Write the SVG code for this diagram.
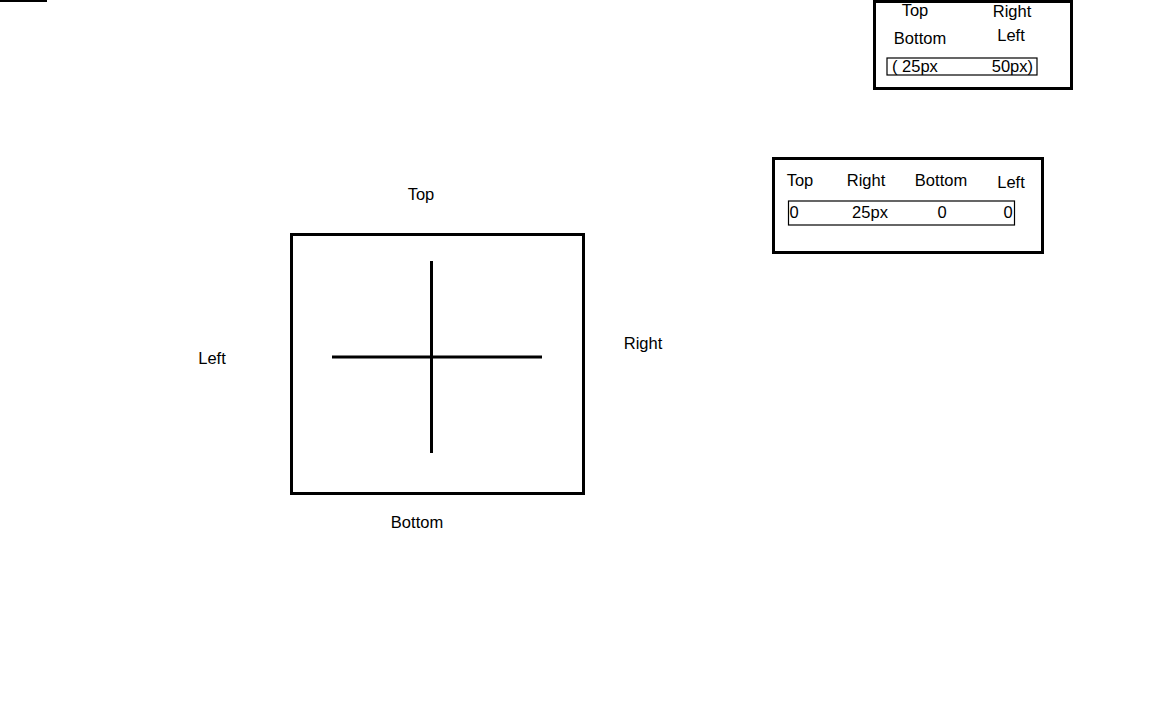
<svg xmlns="http://www.w3.org/2000/svg" width="1152" height="720" viewBox="0 0 1152 720">
<style>
text{font-family:"Liberation Sans","DejaVu Sans",sans-serif;font-size:16.5px;fill:#000;text-anchor:middle}
.box{fill:none;stroke:#000;stroke-width:3}
.inner{fill:none;stroke:#000;stroke-width:1.2}
.ln{stroke:#000;stroke-width:3;fill:none}
</style>
<rect width="1152" height="720" fill="#fff"/>
<g id="topline"><line x1="0" y1="1" x2="47" y2="1" stroke="#000" stroke-width="2"/></g>
<g id="shorthand-box">
<rect class="box" x="874.5" y="1.5" width="197" height="87"/>
<rect class="inner" x="887" y="58" width="150" height="17"/>
<text x="915" y="16">Top</text>
<text x="1012" y="17">Right</text>
<text x="920" y="44">Bottom</text>
<text x="1011" y="41">Left</text>
<text x="892" y="72" style="text-anchor:start">( 25px</text>
<text x="1033" y="72" style="text-anchor:end">50px)</text>
</g>
<g id="longhand-box">
<rect class="box" x="773.5" y="158.5" width="269" height="94"/>
<rect class="inner" x="788.5" y="201" width="226" height="24"/>
<text x="800" y="186">Top</text>
<text x="866" y="186">Right</text>
<text x="941" y="186">Bottom</text>
<text x="1011" y="188">Left</text>
<text x="794" y="218">0</text>
<text x="870" y="218">25px</text>
<text x="942" y="218">0</text>
<text x="1008" y="218">0</text>
</g>
<g id="main-box">
<rect class="box" x="291.5" y="234.5" width="292" height="259"/>
</g>
<g id="connectors">
<line class="ln" x1="431.5" y1="261" x2="431.5" y2="453"/>
<line class="ln" x1="332" y1="357" x2="542" y2="357"/>
</g>
<g id="labels">
<text x="421" y="200">Top</text>
<text x="212" y="364">Left</text>
<text x="643" y="349">Right</text>
<text x="417" y="528">Bottom</text>
</g>
</svg>
